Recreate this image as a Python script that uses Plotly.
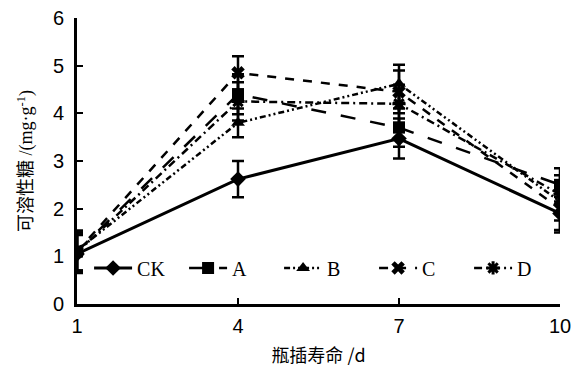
import plotly.graph_objects as go

days = [1, 4, 7, 10]
series_names = ["CK", "A", "B", "C", "D"]
ck = [1.05, 2.62, 3.47, 1.90]
a = [1.10, 4.40, 3.70, 2.50]
b = [1.12, 3.80, 4.62, 2.15]
c = [1.10, 4.85, 4.45, 2.00]
d = [1.08, 4.25, 4.20, 2.30]
ck_err = [0.40, 0.38, 0.42, 0.35]
a_err = [0.40, 0.42, 0.40, 0.35]
b_err = [0.42, 0.30, 0.40, 0.40]
c_err = [0.40, 0.35, 0.45, 0.50]
d_err = [0.38, 0.40, 0.40, 0.40]

values = [ck, a, b, c, d]
errors = [ck_err, a_err, b_err, c_err, d_err]
symbols = ["diamond", "square", "triangle-up", "x", "asterisk-open"]
dashes = ["solid", "longdash", "6px,3px,2px,3px,2px,3px", "dash", "8px,4px,2px,4px"]
sizes = [12, 12, 12, 12, 11]

fig = go.Figure()
for name, vals, errs, sym, dash, sz in zip(series_names, values, errors, symbols, dashes, sizes):
    fig.add_trace(go.Scatter(
        x=days, y=vals, name=name, mode="lines+markers",
        line=dict(color="black", width=3 if name == "CK" else 2.5, dash=dash),
        marker=dict(symbol=sym, size=sz, color="black",
                    line=dict(color="black", width=3 if sym == "asterisk-open" else 0)),
        error_y=dict(type="data", array=errs, visible=True, color="black",
                     thickness=2.5, width=6),
    ))

axis_font = dict(family="Liberation Sans, DejaVu Sans", size=20, color="black")
fig.update_layout(
    width=580, height=366,
    margin=dict(l=69, r=28, t=10, b=70),
    paper_bgcolor="white", plot_bgcolor="white",
    showlegend=True,
    legend=dict(orientation="h", x=0.025, y=0.126, xanchor="left", yanchor="middle",
                font=dict(family="Liberation Serif, Times New Roman", size=20, color="black"),
                bgcolor="rgba(0,0,0,0)", itemwidth=38, entrywidth=42, tracegroupgap=0),
    xaxis=dict(range=[1, 10], tickvals=[1, 4, 7, 10], ticks="inside", ticklen=6,
               tickwidth=2, tickcolor="black", showline=True, linecolor="black",
               linewidth=3, showgrid=False, zeroline=False, tickfont=axis_font,
               automargin=False, ticklabelstandoff=2, ticklabeloverflow="allow",
               title=dict(text="瓶插寿命 /d", standoff=14,
                          font=dict(family="Noto Sans CJK SC", size=18, color="black"))),
    yaxis=dict(range=[0, 6], dtick=1, ticks="inside", ticklen=6, tickwidth=2,
               tickcolor="black", showline=True, linecolor="black", linewidth=3,
               showgrid=False, zeroline=False, tickfont=axis_font,
               automargin=False, ticklabelstandoff=6, ticklabeloverflow="allow",
               title=dict(text="可溶性糖 /(mg·g<sup>-1</sup>)", standoff=16,
                          font=dict(family="Liberation Serif, Noto Sans CJK SC", size=18, color="black"))),
)
fig.write_html("out.html")
